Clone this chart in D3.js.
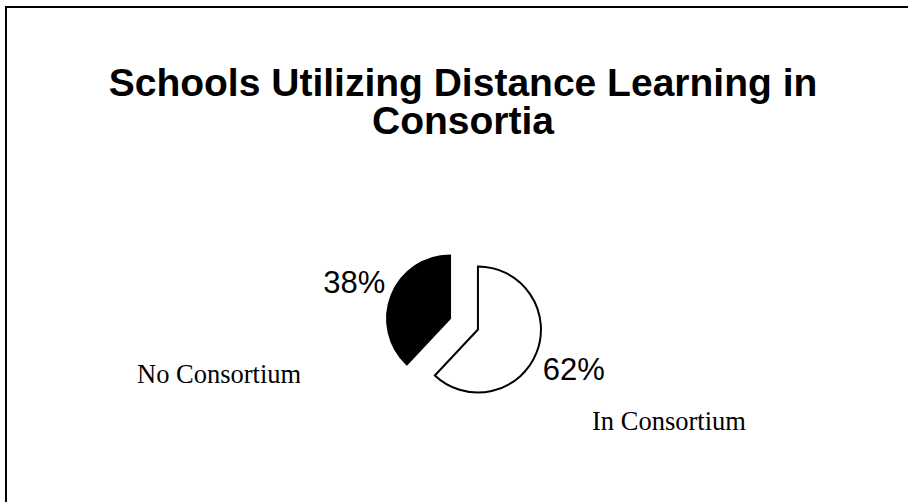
<!DOCTYPE html>
<html>
<head>
<meta charset="utf-8">
<script src="https://cdn.jsdelivr.net/npm/d3@7"></script>
<style>
  body { margin: 0; background: #fff; }
  svg { display: block; }
</style>
</head>
<body>
<svg class="main-svg" width="908" height="502"></svg>
<script>
const categories = ["In Consortium", "No Consortium"];
const values = [62, 38];
const fills = ["#ffffff", "#000000"];
const titleLines = ["Schools Utilizing Distance Learning in", "Consortia"];

const svg = d3.select(".main-svg");

// frame (runs off the right/bottom edge like the source)
svg.append("rect")
  .attr("x", 6).attr("y", 7)
  .attr("width", 960).attr("height", 560)
  .attr("fill", "none")
  .attr("stroke", "#000")
  .attr("stroke-width", 2);

svg.append("g")
  .selectAll("text")
  .data(titleLines)
  .join("text")
    .attr("x", 463)
    .attr("y", (d, i) => 96 + i * 38)
    .attr("text-anchor", "middle")
    .attr("font-family", "Liberation Sans, Arial, sans-serif")
    .attr("font-weight", "bold")
    .attr("font-size", 39)
    .text(d => d);

const cx = 464, cy = 324, r = 63, explode = 15;

const pie = d3.pie().sort(null).value(d => d.value);
const arcs = pie(categories.map((c, i) => ({ name: c, value: values[i] })));

const arc = d3.arc().innerRadius(0).outerRadius(r);
const total = d3.sum(values);

const slice = svg.append("g")
  .attr("transform", `translate(${cx},${cy})`)
  .selectAll("g")
  .data(arcs)
  .join("g")
    .attr("transform", d => {
      const a = (d.startAngle + d.endAngle) / 2;
      return `translate(${Math.sin(a) * explode},${-Math.cos(a) * explode})`;
    });

slice.append("path")
  .attr("d", arc)
  .attr("fill", (d, i) => fills[i])
  .attr("stroke", "#000")
  .attr("stroke-width", 2)
  .attr("stroke-linejoin", "miter");

const labelArc = d3.arc().innerRadius(103).outerRadius(103);
slice.append("text")
  .attr("transform", d => `translate(${labelArc.centroid(d)})`)
  .attr("text-anchor", "middle")
  .attr("dy", "0.4em")
  .attr("font-family", "Liberation Sans, Arial, sans-serif")
  .attr("font-size", 31)
  .text(d => Math.round(d.value / total * 100) + "%");

// category names
const namePos = { "No Consortium": [137, 383], "In Consortium": [592, 430] };
svg.append("clipPath").attr("id", "nameclip")
  .append("rect").attr("x", 0).attr("y", 0).attr("width", 300).attr("height", 502);

svg.append("g")
  .selectAll("text")
  .data(categories)
  .join("text")
    .attr("x", d => namePos[d][0])
    .attr("y", d => namePos[d][1])
    .attr("clip-path", d => d === "No Consortium" ? "url(#nameclip)" : null)
    .attr("font-family", "Liberation Serif, Times New Roman, serif")
    .attr("font-size", 26.5)
    .text(d => d);
</script>
</body>
</html>
